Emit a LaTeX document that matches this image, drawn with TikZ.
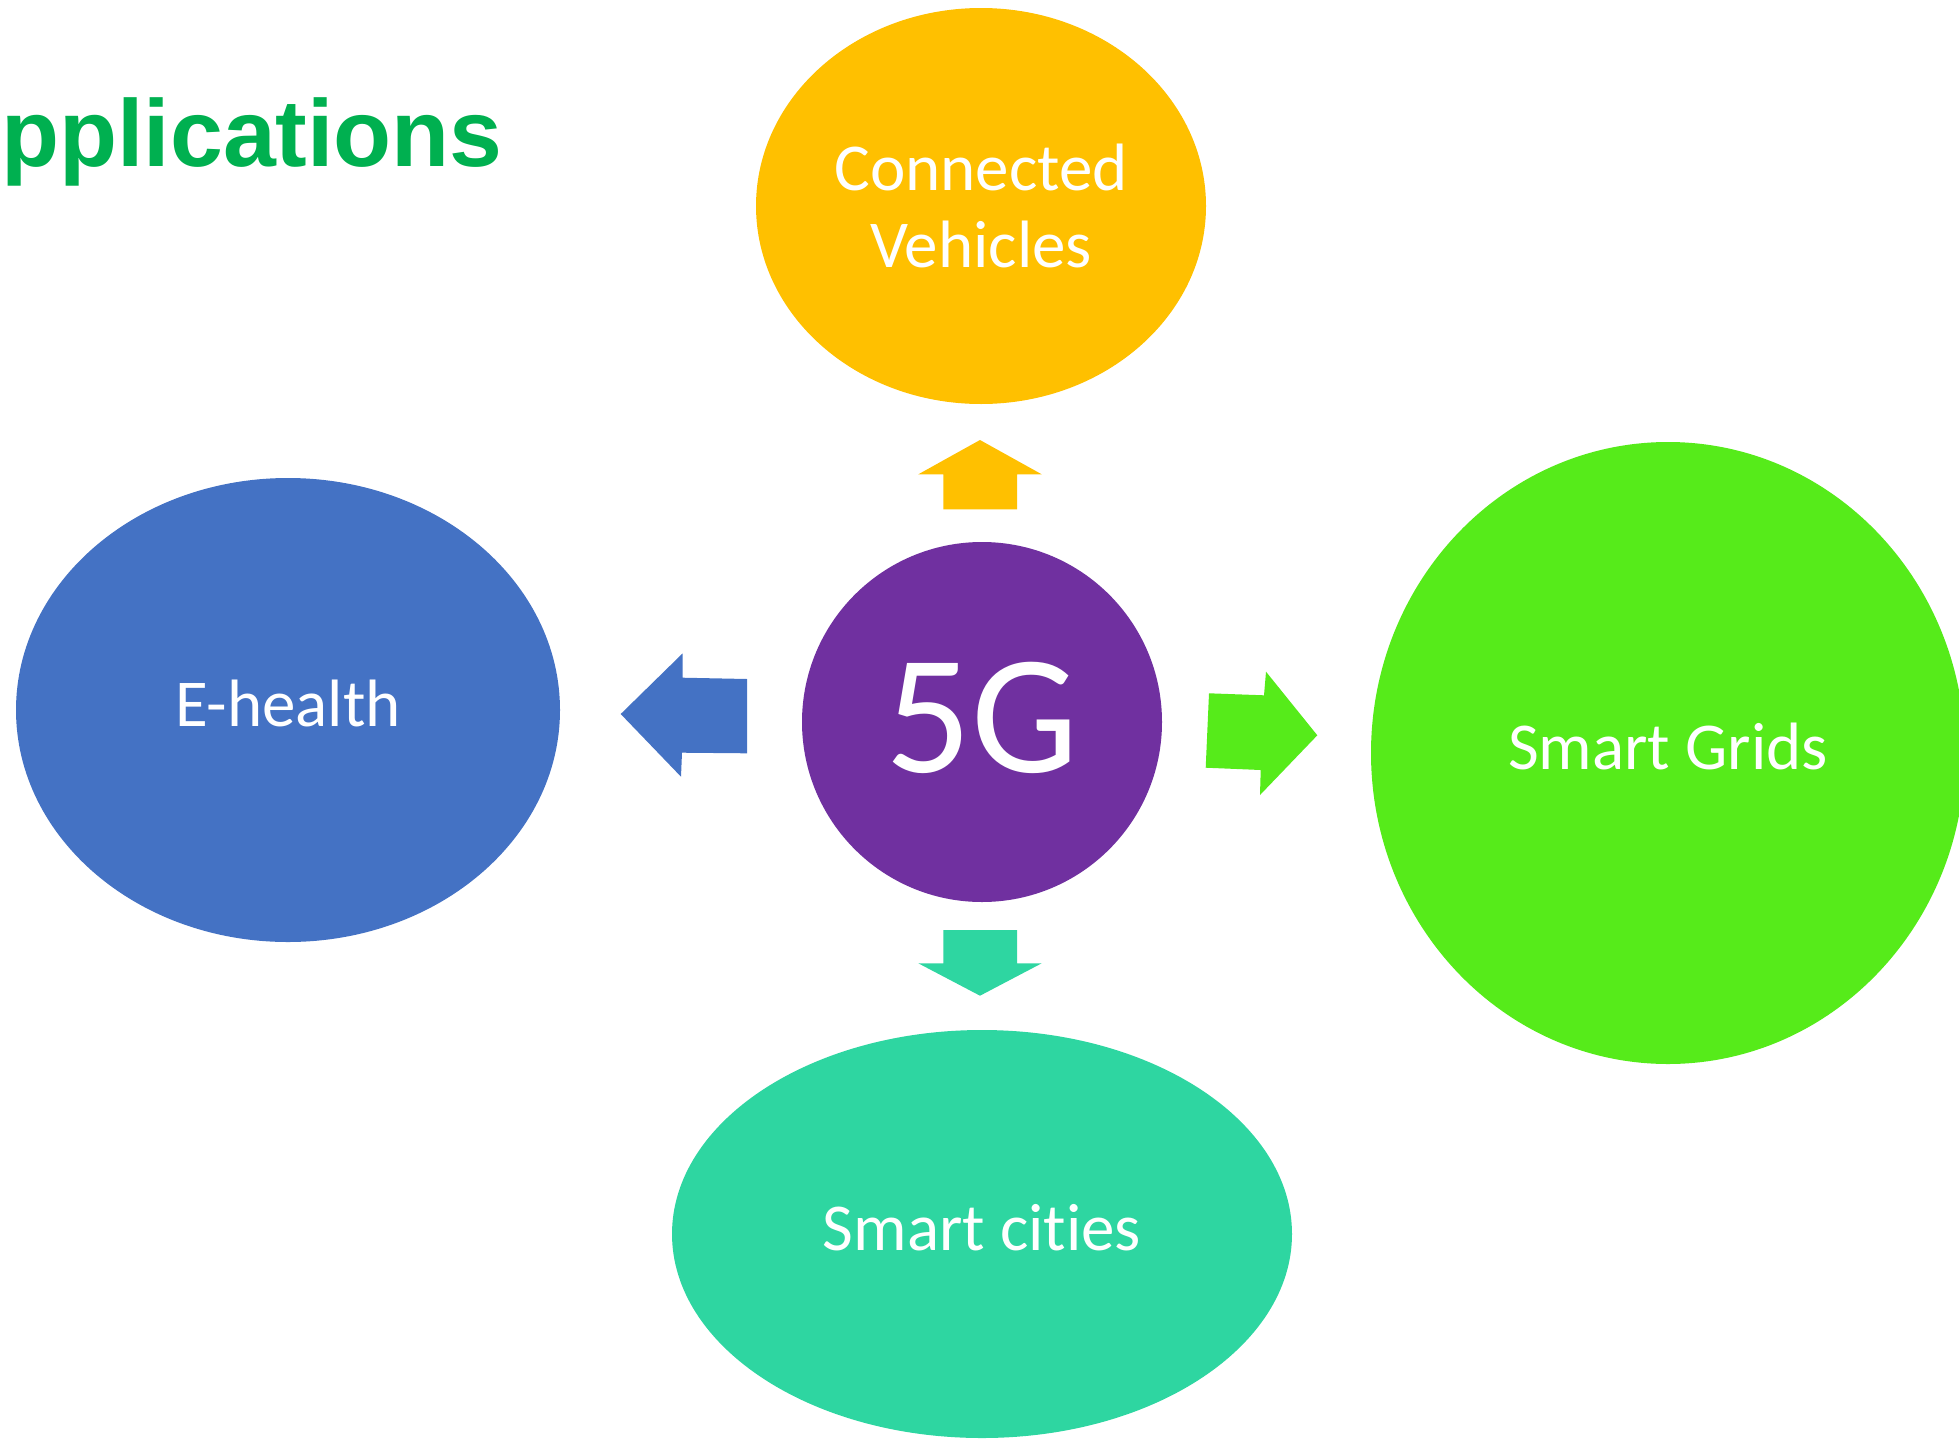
\documentclass[tikz,border=0pt]{standalone}
\usepackage{fontspec}
\setmainfont{Carlito}[Ligatures=NoCommon]
\newfontfamily\headfont{Liberation Sans}
\usetikzlibrary{shapes.geometric}

\definecolor{titlegreen}{HTML}{00B050}
\definecolor{cvyellow}{HTML}{FFC000}
\definecolor{ehblue}{HTML}{4472C4}
\definecolor{gpurple}{HTML}{7030A0}
\definecolor{sggreen}{HTML}{56EB1A}
\definecolor{scteal}{HTML}{2ED6A1}

\begin{document}
\begin{tikzpicture}[x=1pt,y=-1pt,
   bubble/.style={ellipse,draw=none,inner sep=0pt,text=white,
      font=\fontsize{67}{77}\selectfont,text height=40pt,text depth=7pt}]
   \useasboundingbox (0,0) rectangle (1959,1440);
   % title, cut at the left edge
   \node[anchor=base west,inner sep=0pt,text=titlegreen,
         font=\headfont\bfseries\fontsize{95}{100}\selectfont] (title) at (-67.5,166) {Applications};
   % the five bubbles
   \node[bubble,fill=gpurple,circle,minimum size=360pt,
         font=\fontsize{170}{170}\selectfont,text height=110pt,text depth=10pt] (fiveg) at (982,722) {5G};
   \node[bubble,fill=cvyellow,minimum width=450pt,minimum height=396pt,align=center,
         text height=,text depth=] (vehicles) at (981,206) {Connected\\Vehicles};
   \node[bubble,fill=ehblue,minimum width=544pt,minimum height=464pt] (health) at (288,710) {E-health};
   \node[bubble,fill=sggreen,minimum width=594pt,minimum height=622pt] (grids) at (1668,753) {Smart Grids};
   \node[bubble,fill=scteal,minimum width=620pt,minimum height=408pt] (cities) at (982,1234) {Smart cities};
   % block arrows out of the 5G circle
   \fill[cvyellow] (943.3,509.3) -- (943.3,474.3) -- (918.3,474.3) -- (980,440)
      -- (1041.7,474.3) -- (1017,474.3) -- (1017,509.3) -- cycle;
   \fill[scteal] (943.3,930) -- (1017,930) -- (1017,963.3) -- (1041.7,963.3)
      -- (980,995.7) -- (918.3,963.3) -- (943.3,963.3) -- cycle;
   \fill[ehblue] (620.7,714) -- (682.7,653.3) -- (682.7,677.7) -- (747,679)
      -- (747,753.3) -- (682,752.7) -- (681,776.7) -- cycle;
   \fill[sggreen] (1209,693.3) -- (1264,695.3) -- (1266,671.7) -- (1317.3,735.3)
      -- (1260,795) -- (1260.7,770) -- (1205.7,767.7) -- cycle;
\end{tikzpicture}
\end{document}
